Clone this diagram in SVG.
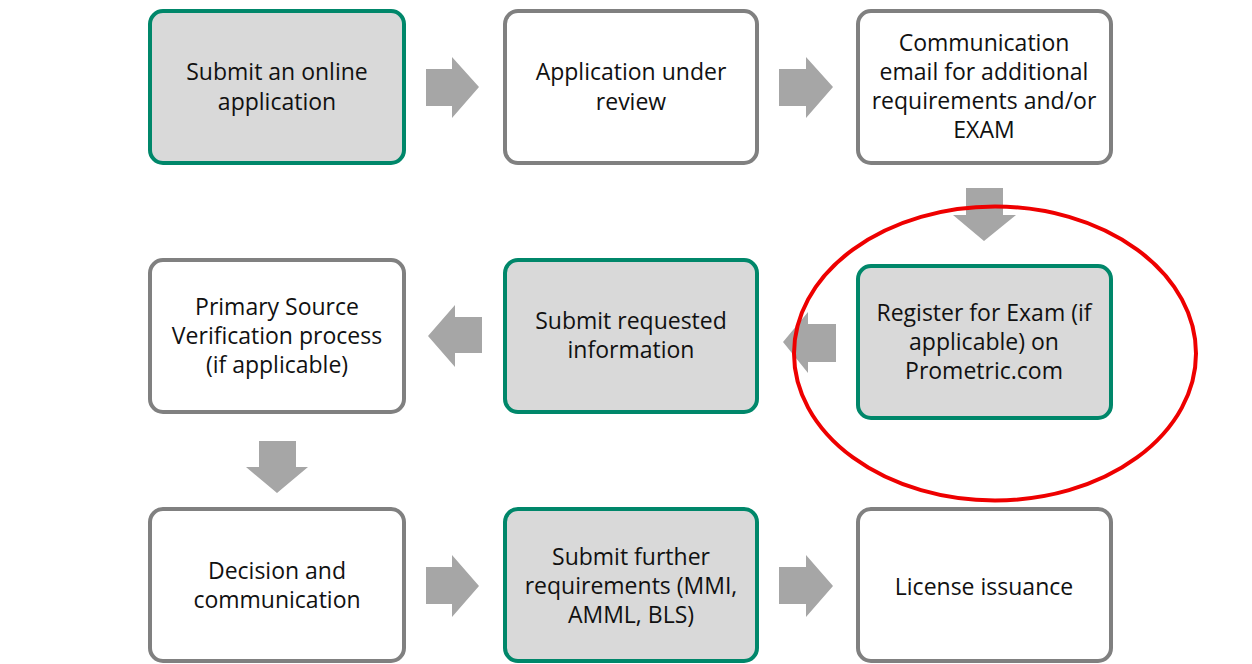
<svg xmlns="http://www.w3.org/2000/svg" width="1252" height="664" viewBox="0 0 1252 664">
<style>
.box{stroke-width:4;}
.plain{fill:#ffffff;stroke:#808080;}
.green{fill:#d9d9d9;stroke:#00876a;}
.arr{fill:#a6a6a6;}
text{font-family:"Open Sans","Liberation Sans",sans-serif;font-size:23px;fill:#111;text-anchor:middle;}
</style>
<rect width="1252" height="664" fill="#ffffff"/>
<g id="n1"><rect class="box green" x="150" y="11" width="254" height="152" rx="13"/>
<text x="277" y="80">Submit an online</text><text x="277" y="110">application</text></g>
<g id="n2"><rect class="box plain" x="505" y="11" width="252" height="152" rx="13"/>
<text x="631" y="80">Application under</text><text x="631" y="110">review</text></g>
<g id="n3"><rect class="box plain" x="858" y="11" width="253" height="152" rx="13"/>
<text x="984" y="51">Communication</text><text x="984" y="80">email for additional</text><text x="984" y="109">requirements and/or</text><text x="984" y="138">EXAM</text></g>
<g id="n4"><rect class="box green" x="858" y="266" width="253" height="152" rx="13"/>
<text x="984" y="321">Register for Exam (if</text><text x="984" y="350">applicable) on</text><text x="984" y="379">Prometric.com</text></g>
<g id="n5"><rect class="box green" x="505" y="260" width="252" height="152" rx="13"/>
<text x="631" y="329">Submit requested</text><text x="631" y="358">information</text></g>
<g id="n6"><rect class="box plain" x="150" y="260" width="254" height="152" rx="13"/>
<text x="277" y="315">Primary Source</text><text x="277" y="344">Verification process</text><text x="277" y="373">(if applicable)</text></g>
<g id="n7"><rect class="box plain" x="150" y="509" width="254" height="152" rx="13"/>
<text x="277" y="579">Decision and</text><text x="277" y="608">communication</text></g>
<g id="n8"><rect class="box green" x="505" y="509" width="252" height="152" rx="13"/>
<text x="631" y="565">Submit further</text><text x="631" y="594">requirements (MMI,</text><text x="631" y="623">AMML, BLS)</text></g>
<g id="n9"><rect class="box plain" x="858" y="509" width="253" height="152" rx="13"/>
<text x="984" y="595">License issuance</text></g>
<g id="connectors">
<polygon class="arr" points="426,69 452,69 452,57 479,87 452,118 452,106 426,106"/>
<polygon class="arr" points="779,69 806,69 806,57 833,87 806,118 806,106 779,106"/>
<polygon class="arr" points="966,188 1003,188 1003,215 1016,215 984,241 953,215 966,215"/>
<polygon class="arr" points="836,324 808,324 808,312 783,342 808,373 808,362 836,362"/>
<polygon class="arr" points="482,317 455,317 455,305 428,336 455,367 455,353 482,353"/>
<polygon class="arr" points="259,441 296,441 296,467 308,467 277,493 246,467 259,467"/>
<polygon class="arr" points="426,567 452,567 452,555 479,586 452,617 452,604 426,604"/>
<polygon class="arr" points="779,567 806,567 806,555 833,586 806,617 806,604 779,604"/>
</g>
<ellipse cx="995" cy="353.5" rx="201" ry="147" fill="none" stroke="#ee0000" stroke-width="4"/>
</svg>
